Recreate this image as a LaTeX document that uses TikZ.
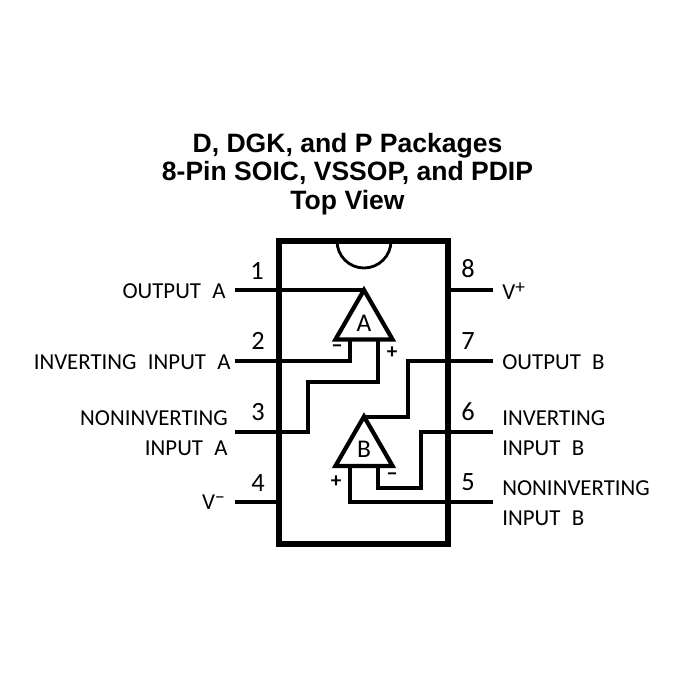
\documentclass[tikz,border=0pt]{standalone}
\usepackage{fontspec}
\setmainfont{Carlito}
\newfontfamily\titlefont{Liberation Sans}
\newfontfamily\pinfont[WordSpace=2.2]{Carlito}
\newcommand{\railsign}[1]{\raisebox{0.55ex}{\fontsize{11}{11}\selectfont #1}}
\usetikzlibrary{shapes.geometric}
\tikzset{
    wire/.style = {line width = 1.8pt},
    amp/.style = {shape = regular polygon, regular polygon sides = 3, draw = black, line width = 2.4pt, minimum size = 1.32cm, inner sep = 0pt, outer sep = 0pt, font = \pinfont\fontsize{14.5}{14.5}\selectfont},
    pinlabel/.style = {inner sep = 0pt, font = \pinfont\fontsize{13}{17}\selectfont},
    pinnum/.style = {inner sep = 0pt, font = \fontsize{15}{15}\selectfont},
    sign/.style = {inner sep = 0pt, font = \bfseries\fontsize{12}{12}\selectfont}
}

\begin{document}
\begin{tikzpicture}
    \useasboundingbox (0, 0) rectangle (14, 14);

    \node [align = center, inner sep = 0pt, font = \titlefont\bfseries\fontsize{15.1}{16.4}\selectfont] (title) at (6.95, 10.52) {D, DGK, and P Packages\\8-Pin SOIC, VSSOP, and PDIP\\Top View};

    \node [draw = black, line width = 3pt, minimum width = 3.38cm, minimum height = 6.06cm, inner sep = 0pt, outer sep = 0pt] (chip) at (7.27, 6.15) {};
    \coordinate (notch) at (6.74, 9.18);
    \draw [line width = 1.6pt] (notch) arc [start angle = 180, end angle = 360, radius = 0.54];

    \node [amp] (A) at (7.28, 7.54) {A};
    \node [amp] (B) at (7.28, 5.01) {B};

    \coordinate (p1) at (4.7, 8.2);
    \coordinate (p2) at (4.7, 6.78);
    \coordinate (p3) at (4.7, 5.36);
    \coordinate (p4) at (4.7, 3.96);
    \coordinate (p5) at (9.86, 3.96);
    \coordinate (p6) at (9.86, 5.36);
    \coordinate (p7) at (9.86, 6.78);
    \coordinate (p8) at (9.86, 8.2);
    \coordinate (minusA) at (7, 7.21);
    \coordinate (plusA) at (7.56, 7.21);
    \coordinate (stepA) at (6.16, 6.36);
    \coordinate (stepB) at (8.16, 5.66);
    \coordinate (minusB) at (7.56, 4.68);
    \coordinate (plusB) at (7, 4.68);
    \coordinate (stepC) at (8.42, 4.24);

    \draw [wire] (p1) -- (p1 -| A.corner 1);
    \draw [wire] (p2) -| (minusA);
    \draw [wire] (p3) -| (stepA) -| (plusA);
    \draw [wire] (p4) -- (p4 -| chip.west);
    \draw [wire] (p5) -| (plusB);
    \draw [wire] (p6) -| (stepC) -| (minusB);
    \draw [wire] (p7) -| (stepB) -- (stepB -| B.corner 1);
    \draw [wire] (p8) -- (p8 -| chip.east);

    \node [pinnum] (n1) at (5.14, 8.58) {1};
    \node [pinnum] (n2) at (5.16, 7.18) {2};
    \node [pinnum] (n3) at (5.16, 5.76) {3};
    \node [pinnum] (n4) at (5.16, 4.34) {4};
    \node [pinnum] (n5) at (9.36, 4.36) {5};
    \node [pinnum] (n6) at (9.36, 5.76) {6};
    \node [pinnum] (n7) at (9.36, 7.18) {7};
    \node [pinnum] (n8) at (9.36, 8.62) {8};

    \node [pinlabel, anchor = east] (outA) at (4.52, 8.18) {OUTPUT A};
    \node [pinlabel, anchor = east] (invA) at (4.62, 6.76) {INVERTING INPUT A};
    \node [pinlabel, anchor = east, align = right] (nonA) at (4.56, 5.34) {NONINVERTING\\INPUT A};
    \node [pinlabel, anchor = east] (vminus) at (4.5, 3.96) {V\railsign{−}};
    \node [pinlabel, anchor = west] (vplus) at (10.04, 8.18) {V\railsign{+}};
    \node [pinlabel, anchor = west] (outB) at (10.04, 6.76) {OUTPUT B};
    \node [pinlabel, anchor = west, align = left] (invB) at (10.04, 5.34) {INVERTING\\INPUT B};
    \node [pinlabel, anchor = west, align = left] (nonB) at (10.04, 3.94) {NONINVERTING\\INPUT B};

    \node [sign] (sa) at (6.74, 7.02) {−};
    \node [sign] (sb) at (7.84, 6.94) {+};
    \node [sign] (sc) at (6.72, 4.36) {+};
    \node [sign] (sd) at (7.84, 4.46) {−};
\end{tikzpicture}
\end{document}
